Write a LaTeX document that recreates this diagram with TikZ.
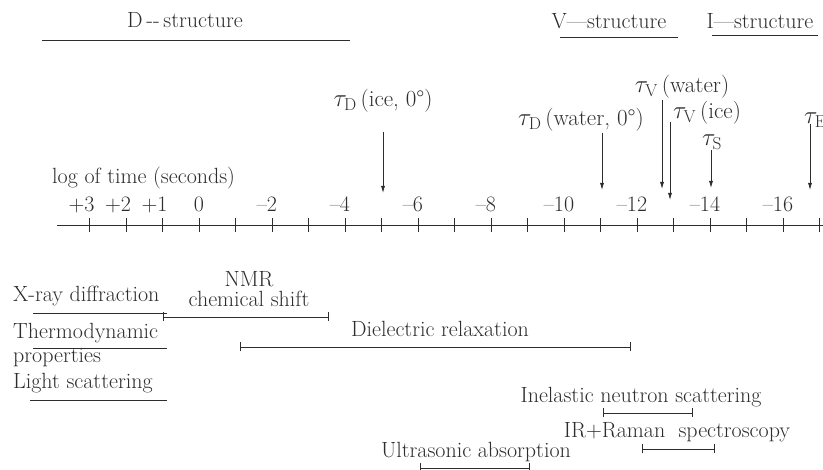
\documentclass[tikz,border=0pt]{standalone}
\usepackage{amssymb,amsmath}
\usepackage{tikz}
\usetikzlibrary{arrows.meta,calc,positioning}
\definecolor{InkGray}{RGB}{45,45,45}

\begin{document}
\begin{tikzpicture}[>={Latex[length=7pt,width=4pt]},x=1pt,y=-1pt,
  every node/.style={text=InkGray,inner sep=1pt,font=\fontsize{22}{24}\selectfont},
  rule/.style={InkGray,line width=0.8pt},
  span/.style={{Bar[width=9pt]}-{Bar[width=9pt]},InkGray,line width=0.8pt},
  taulab/.style={font=\fontsize{23}{24}\selectfont},
  tauarrow/.style={->,InkGray,line width=0.8pt}]
\useasboundingbox (0,0) rectangle (823,470);
% structure headings
\node (dstr) at (185,20) {D\,{-}{-}\,structure};
\node (vstr) at (609,21) {V---structure};
\node (istr) at (760,21) {I---structure};
\draw[rule] (42,40)--(350,40);
\draw[rule] (560,37)--(678,37);
\draw[rule] (712,35)--(818,35);
% time axis
\node[anchor=west] (axlab) at (51,178) {log of time (seconds)};
\draw[rule,line width=0.9pt] (57,225)--(823,225);
\foreach \k in {-3,...,17}
  {\draw[rule] (199+36.5*\k,218)--(199+36.5*\k,232);}
\foreach \k/\lab in {-3/{\llap{+}3},-2/{\llap{+}2},-1/{\llap{+}1},0/0,2/{\llap{\textendash}2},4/{\llap{\textendash}4},6/{\llap{\textendash}6},8/{\llap{\textendash}8},10/{\llap{\textendash}10},12/{\llap{\textendash}12},14/{\llap{\textendash}14},16/{\llap{\textendash}16}}
  {\node[anchor=base] (v\k) at (199+36.5*\k,212) {\lab};}
% relaxation times
\coordinate (pdice) at (383,193);
\coordinate (pdwat) at (602,190);
\coordinate (pvwat) at (662,189);
\coordinate (pvice) at (670,200);
\coordinate (ps) at (711,188);
\coordinate (pe) at (810,190);
\node[taulab] (tdice) at (383,101) {$\tau_{\mathrm{D}}$\,(ice, 0\textdegree)};
\node[taulab] (tdwat) at (581,120) {$\tau_{\mathrm{D}}$\,(water,\ 0\textdegree)};
\node[taulab] (tvwat) at (682,87) {$\tau_{\mathrm{V}}$\,(water)};
\node[taulab] (tvice) at (707,113) {$\tau_{\mathrm{V}}$\,(ice)};
\node[taulab] (ts) at (712,142) {$\tau_{\mathrm{S}}$};
\node[taulab,anchor=west] (te) at (803,120) {$\tau_{\mathrm{E}}$};
\draw[tauarrow,shorten <=18pt] (tdice.south -| pdice)--(pdice);
\draw[tauarrow] (tdwat.south -| pdwat)--(pdwat);
\draw[tauarrow] (tvwat.south -| pvwat)--(pvwat);
\draw[tauarrow,shorten <=-4pt] (tvice.south -| pvice)--(pvice);
\draw[tauarrow] (ts.south -| ps)--(ps);
\draw[tauarrow,shorten <=-4pt] (te.south -| pe)--(pe);
% methods
\node[anchor=west] (xray) at (12,296) {X-ray diffraction};
\node[anchor=west,align=left] (thermo) at (12,345) {Thermodynamic\\properties};
\node[anchor=west] (light) at (12,383) {Light scattering};
\node[align=center,font=\fontsize{22}{20}\selectfont] (nmr) at (249,289) {NMR\\chemical shift};
\node (diel) at (440,329) {Dielectric relaxation};
\node (neut) at (641,397) {Inelastic neutron scattering};
\node (ramn) at (677,432) {IR+Raman\ \ spectroscopy};
\node (ultra) at (476,452) {Ultrasonic absorption};
\draw[rule] (33,313)--(167,313);
\draw[rule] (33,348)--(167,348);
\draw[rule] (30,400)--(167,400);
\draw[span] (163,317)--(329,317);
\draw[span] (240,347)--(631,347);
\draw[span] (603,413)--(693,413);
\draw[span] (642,449)--(715,449);
\draw[span] (420,468)--(530,468);
\end{tikzpicture}
\end{document}
